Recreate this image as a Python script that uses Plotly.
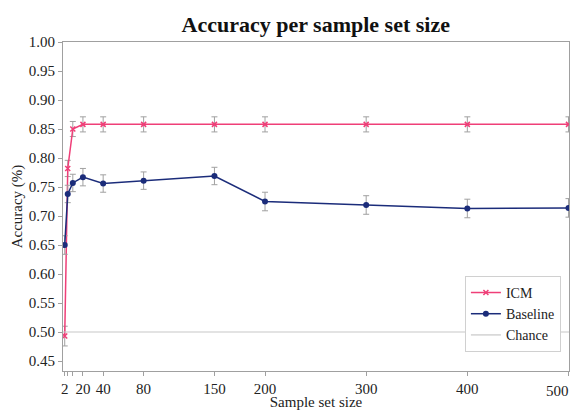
import plotly.graph_objects as go

sample_sizes = [2, 5, 10, 20, 40, 80, 150, 200, 300, 400, 500]
icm_acc = [0.493, 0.782, 0.850, 0.858, 0.858, 0.858, 0.858, 0.858, 0.858, 0.858, 0.858]
icm_err = [0.017, 0.014, 0.013, 0.013, 0.013, 0.013, 0.013, 0.013, 0.013, 0.013, 0.013]
base_acc = [0.650, 0.738, 0.757, 0.767, 0.756, 0.761, 0.769, 0.725, 0.719, 0.713, 0.714]
base_err = [0.016, 0.015, 0.015, 0.015, 0.015, 0.015, 0.015, 0.016, 0.016, 0.016, 0.016]
chance = 0.5
tick_vals = [2, 5, 10, 20, 40, 80, 150, 200, 300, 400, 500]
tick_text = ["2", "", "", "20", "40", "80", "150", "200", "300", "400", ""]
last_tick = [500]
last_text = ["500"]
y_ticks = [0.45, 0.50, 0.55, 0.60, 0.65, 0.70, 0.75, 0.80, 0.85, 0.90, 0.95, 1.00]

ICM_COLOR = "#ef3f78"
BASE_COLOR = "#1b2c7a"
ERR_COLOR = "#a0a0a0"
FONT = "Liberation Serif"
X_RANGE = [0.3, 500.5]

fig = go.Figure()

fig.add_trace(go.Scatter(
    x=sample_sizes, y=icm_acc, mode="lines+markers", name="ICM",
    line=dict(color=ICM_COLOR, width=1.5),
    marker=dict(symbol="x-thin", size=5, line=dict(color=ICM_COLOR, width=1.5), color=ICM_COLOR),
    error_y=dict(type="data", array=icm_err, color=ERR_COLOR, thickness=1, width=3),
))
fig.add_trace(go.Scatter(
    x=sample_sizes, y=base_acc, mode="lines+markers", name="Baseline",
    line=dict(color=BASE_COLOR, width=1.5),
    marker=dict(symbol="circle", size=6, color=BASE_COLOR),
    error_y=dict(type="data", array=base_err, color=ERR_COLOR, thickness=1, width=3),
))
fig.add_trace(go.Scatter(
    x=[sample_sizes[0] - 10, sample_sizes[-1] + 10], y=[chance, chance],
    mode="lines", name="Chance", xaxis="x2",
    line=dict(color="#c8c8c8", width=1.2),
))

fig.update_layout(
    width=571, height=410,
    margin=dict(l=63, r=2, t=42, b=39),
    paper_bgcolor="white", plot_bgcolor="white",
    font=dict(family=FONT, size=15, color="#222"),
    title=dict(text="<b>Accuracy per sample set size</b>", x=0.553, xanchor="center",
               y=0.94, yanchor="middle", font=dict(family=FONT, size=22, color="#111")),
    showlegend=True,
    legend=dict(x=0.984, y=0.058, xanchor="right", yanchor="bottom",
                traceorder="normal",
                bgcolor="white", bordercolor="#d0d0d0", borderwidth=1,
                font=dict(family=FONT, size=14, color="#222"),
                itemwidth=30, tracegroupgap=0),
    xaxis2=dict(
        overlaying="x", side="bottom", range=X_RANGE,
        tickvals=last_tick, ticktext=last_text, ticklabelposition="outside left",
        ticks="", showgrid=False, zeroline=False, showline=False,
        ticklabelstandoff=9,
        tickfont=dict(family=FONT, size=15, color="#222"), automargin=False,
    ),
)
fig.layout.xaxis.update(
    range=X_RANGE, tickvals=tick_vals, ticktext=tick_text,
    showgrid=False, zeroline=False, showline=True, linecolor="#a0a0a0", linewidth=1,
    mirror=True, ticks="outside", ticklen=4, tickcolor="#a0a0a0",
    title=dict(text="Sample set size", font=dict(family=FONT, size=15), standoff=4),
    tickfont=dict(family=FONT, size=15), automargin=False,
)
fig.layout.yaxis.update(
    range=[0.4328, 1.0], tickvals=y_ticks, tickformat=".2f",
    showgrid=False, zeroline=False, showline=True, linecolor="#a0a0a0", linewidth=1,
    mirror=True, ticks="outside", ticklen=4, tickcolor="#a0a0a0",
    title=dict(text="Accuracy (%)", font=dict(family=FONT, size=15), standoff=2),
    tickfont=dict(family=FONT, size=15), automargin=False,
)

fig.write_html("out.html", config={"displayModeBar": False},
               post_script="document.body.style.margin='0';")
